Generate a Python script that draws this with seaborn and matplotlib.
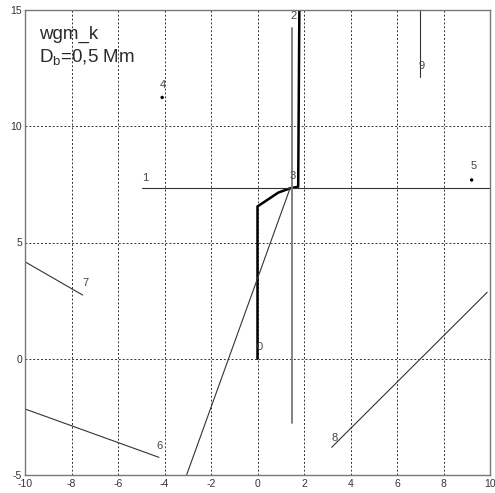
import pandas as pd
import matplotlib
matplotlib.use("Agg")
import matplotlib.pyplot as plt
import seaborn as sns

# Traces (x, y)
trace_ids = ["0", "1", "2", "3", "6", "7", "8", "9"]
trace_x = {
    "0": [0.0, 0.0, 0.9, 1.4, 1.75, 1.8],
    "1": [-4.95, 10.0],
    "2": [1.47, 1.47],
    "3": [-3.05, 1.4],
    "6": [-10.0, -4.24],
    "7": [-10.0, -7.52],
    "8": [3.19, 9.88],
    "9": [7.0, 7.0],
}
trace_y = {
    "0": [0.0, 6.55, 7.15, 7.33, 7.4, 15.0],
    "1": [7.33, 7.33],
    "2": [14.24, -2.78],
    "3": [-5.0, 7.33],
    "6": [-2.16, -4.24],
    "7": [4.17, 2.74],
    "8": [-3.81, 2.86],
    "9": [15.0, 12.13],
}
point_ids = ["4", "5"]
point_x = [-4.1, 9.21]
point_y = [11.24, 7.69]

label_ids = ["0", "1", "2", "3", "4", "5", "6", "7", "8", "9"]
label_x = [0.1, -4.84, 1.57, 1.53, -4.06, 9.3, -4.2, -7.42, 3.3, 7.05]
label_y = [0.52, 7.78, 14.74, 7.86, 11.77, 8.3, -3.75, 3.26, -3.4, 12.6]

xticks = [-10, -8, -6, -4, -2, 0, 2, 4, 6, 8, 10]
yticks = [-5, 0, 5, 10, 15]

sns.set_style("white")
plt.rcParams["font.family"] = ["Liberation Sans", "DejaVu Sans"]
plt.rcParams["axes.unicode_minus"] = False

fig = plt.figure(figsize=(4.95, 4.93), dpi=100)
ax = fig.add_axes([25 / 495, 18 / 493, 465 / 495, 465 / 493])

styles = {
    "0": dict(color="black", linewidth=1.8),
    "2": dict(color="#777777", linewidth=1.3),
}
for t in trace_ids:
    df = pd.DataFrame({"x": trace_x[t], "y": trace_y[t]})
    st = styles.get(t, dict(color="#333333", linewidth=0.8))
    sns.lineplot(data=df, x="x", y="y", sort=False, estimator=None, ax=ax, **st)

sns.scatterplot(x=point_x, y=point_y, color="black", s=6, edgecolor="none", ax=ax)

for lab, lx, ly in zip(label_ids, label_x, label_y):
    ax.text(lx, ly, lab, fontsize=8, color="#444444", ha="center", va="center")

ax.text(-9.4, 13.97, "wgm_k", fontsize=13.5, color="#2a2a2a", va="center")
ax.text(-9.4, 12.93, r"D$_\mathregular{b}$=0,5 Mm", fontsize=13.5, color="#2a2a2a", va="center")

ax.set_xlim(-10, 10)
ax.set_ylim(-5, 15)
ax.set_xticks(xticks)
ax.set_yticks(yticks)
ax.tick_params(axis="both", length=0, labelsize=7.5, colors="#333333")
ax.tick_params(axis="x", pad=3)
ax.tick_params(axis="y", pad=2)
ax.grid(True, linestyle=(0, (2, 2)), color="#333333", linewidth=0.7)
ax.set_axisbelow(True)
ax.set_xlabel("")
ax.set_ylabel("")
for s in ax.spines.values():
    s.set_color("#777777")
    s.set_linewidth(1.0)

fig.savefig("out.png", dpi=100)
